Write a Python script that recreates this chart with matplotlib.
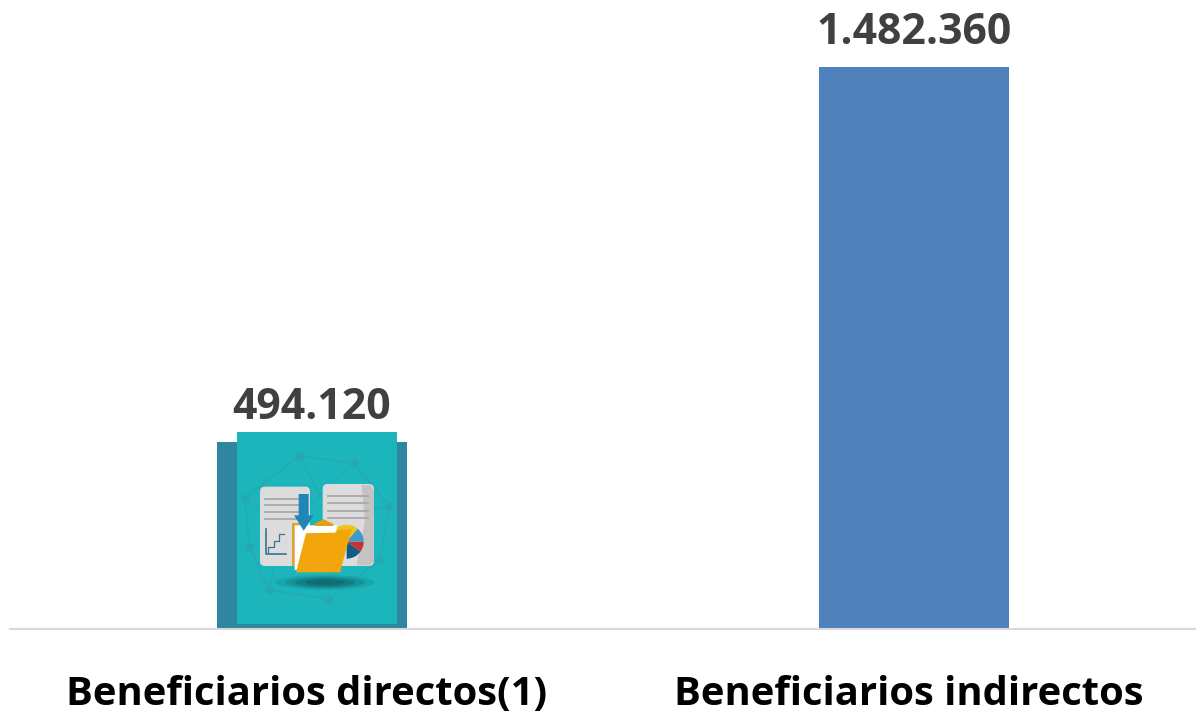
import matplotlib
matplotlib.use("Agg")
import matplotlib.pyplot as plt
from matplotlib.lines import Line2D
from matplotlib.patches import Patch, Rectangle, Ellipse, Polygon, FancyBboxPatch, Wedge
from matplotlib.transforms import ScaledTranslation

categories = ["Beneficiarios directos(1)", "Beneficiarios indirectos"]
values = [494120, 1482360]
value_labels = ["494.120", "1.482.360"]

plt.rcParams["font.family"] = ["Open Sans", "DejaVu Sans"]

W, H = 1196, 713
fig = plt.figure(figsize=(W / 100, H / 100), dpi=100)
ax = fig.add_axes([10 / W, 1 - 629 / H, 1186 / W, (629 - 67) / H])
ax.set_xlim(-0.5017, 1.4684)
ax.set_ylim(0, values[1])

ax.bar([0, 1], values, width=0.3156, color=["#2f86a0", "#4f81bd"], zorder=2)

for spine in ["top", "left", "right"]:
    ax.spines[spine].set_visible(False)
ax.spines["bottom"].set_color("#d9d9d9")
ax.spines["bottom"].set_linewidth(1.5)
ax.set_yticks([])
ax.set_xticks([0, 1])
ax.set_xticklabels(categories, fontsize=28.8, fontweight="bold", color="black")
ax.tick_params(axis="x", length=0, pad=33)
shift = ScaledTranslation(-5 / 100, 0, fig.dpi_scale_trans)
for t in ax.get_xticklabels():
    t.set_transform(t.get_transform() + shift)

for i, (v, lab) in enumerate(zip(values, value_labels)):
    ax.annotate(lab, (i, v), xytext=(0, 9), textcoords="offset points", ha="center",
                va="bottom", fontsize=30.8, fontweight="bold", color="#404040")

# icon pasted on top of the first bar, in pixel coordinates
ov = fig.add_axes([0, 0, 1, 1])
ov.set_xlim(0, W)
ov.set_ylim(H, 0)
ov.axis("off")
ov.patch.set_alpha(0)


def z(x, y):
    return 200 + x / 3, 420 + y / 3


def poly(points, color, **kw):
    ov.add_patch(Polygon([z(*p) for p in points], closed=True, color=color, lw=0, **kw))


def doc(x0, y0, x1, y1, color):
    a, b = z(x0, y0)
    c, d = z(x1, y1)
    ov.add_patch(FancyBboxPatch((a + 4, b + 4), c - a - 8, d - b - 8,
                                boxstyle="round,pad=4,rounding_size=5", color=color, lw=0))


ov.add_patch(Rectangle((237, 432), 160, 192, color="#1cb5bb", lw=0))

# faint network behind the documents
net = "#25a9b0"
nodes = [(297, 108), (463, 130), (567, 258), (540, 420), (388, 537), (207, 510), (148, 380), (135, 235)]
hubs = [(400, 300), (250, 330)]
for i, n in enumerate(nodes):
    m = nodes[(i + 1) % len(nodes)]
    ov.plot(*zip(z(*n), z(*m)), color=net, lw=1)
    ov.plot(*zip(z(*n), z(*hubs[i % 2])), color=net, lw=0.8)
    ov.plot(*z(*n), "o", color=net, ms=5)

# shadow under the folder
for w, a in [(100, 0.15), (80, 0.25), (60, 0.35), (40, 0.45)]:
    ov.add_patch(Ellipse(z(375, 487), w, w * 0.15, color="#0b5a60", alpha=a, lw=0))

doc(180, 200, 330, 438, "#dcdcdc")
doc(368, 192, 522, 438, "#dcdcdc")
poly([(485, 195), (510, 195), (522, 210), (522, 425), (510, 436), (470, 436), (495, 300)], "#c4c2c2")

for yy in [236, 256, 276, 296]:
    ov.plot(*zip(z(195, yy), z(315, yy)), color="#a9a9a9", lw=1.3)
for yy in [228, 250, 272, 294]:
    ov.plot(*zip(z(385, yy), z(505, yy)), color="#a9a9a9", lw=1.3)

# small step chart on the left page
ov.plot(*zip(z(198, 328), z(198, 403), z(258, 403)), color="#3d6f8e", lw=1.2)
ov.plot(*zip(z(205, 395), z(205, 380), z(222, 380), z(222, 362), z(238, 362),
             z(238, 343), z(252, 343)), color="#3d6f8e", lw=0.9)

# pie on the right page (y axis is inverted here, so angles run clockwise)
pie_c = z(440, 365)
ov.add_patch(Wedge(pie_c, 17, 35, 90, color="#0f5c85", lw=0))
ov.add_patch(Wedge(pie_c, 17, 0, 35, color="#c8322a", lw=0))
ov.add_patch(Wedge(pie_c, 17, -50, 0, color="#3d9ac9", lw=0))
ov.add_patch(Wedge(pie_c, 17, -140, -50, color="#f0c419", lw=0))

# white sheet, tab, folder and arrow
poly([(276, 310), (320, 310), (320, 438), (276, 438)], "#e0a030")
poly([(284, 316), (410, 316), (410, 340), (320, 340), (296, 450), (284, 450)], "#ffffff")
poly([(345, 310), (372, 298), (400, 312), (400, 318), (345, 318)], "#e69f10")
poly([(318, 340), (405, 338), (412, 330), (455, 328), (420, 457), (288, 457)], "#f2a60c")
poly([(296, 222), (326, 222), (326, 286), (342, 286), (311, 332), (282, 286), (296, 286)], "#1f86b8")

# keep the icon layers in the order they were added
for i, a in enumerate(ov.get_children()):
    if isinstance(a, (Line2D, Patch)) and a is not ov.patch:
        a.set_zorder(i + 1)

fig.savefig("out.png", dpi=100)
plt.close(fig)
